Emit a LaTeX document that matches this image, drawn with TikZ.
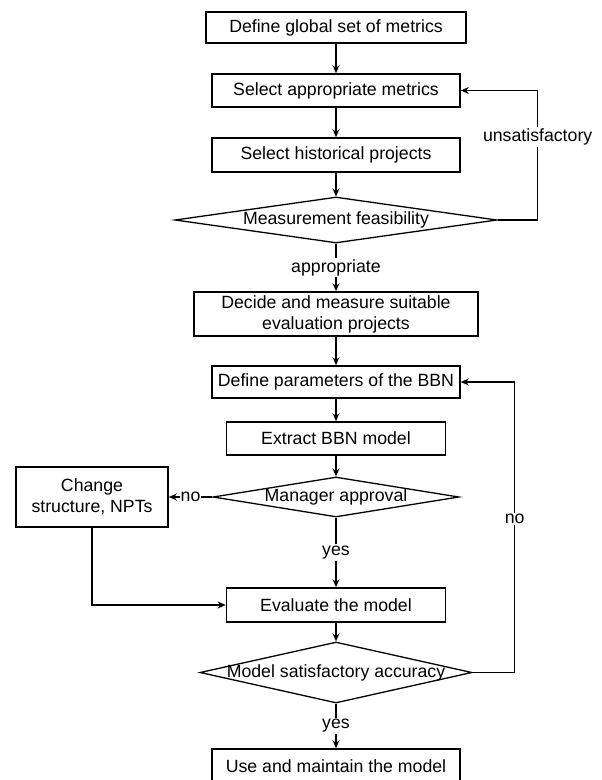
\documentclass[tikz,border=0pt]{standalone}
\usepackage{fontspec}
\setmainfont{Liberation Sans}
\usetikzlibrary{shapes.geometric,arrows.meta}
\begin{document}
\begin{tikzpicture}[x=1pt, y=-1pt, >={Stealth[length=8pt,width=7pt]}, line width=1.6pt,
  font=\fontsize{17.7}{21}\selectfont,
  stepbox/.style={draw, rectangle, inner sep=0pt, align=center},
  decision/.style={draw, diamond, inner sep=0pt, line width=1.3pt},
  lbl/.style={fill=white, inner sep=1.5pt}]
\useasboundingbox (0,0) rectangle (602,780);
\clip (0,0) rectangle (602,780);
\node[stepbox, minimum width=260pt, minimum height=31pt] (global) at (336,27.5) {Define global set of metrics};
\node[stepbox, minimum width=248pt, minimum height=33pt] (selmetrics) at (336,90.5) {Select appropriate metrics};
\node[stepbox, minimum width=248pt, minimum height=34pt] (selhist) at (336,155) {Select historical projects};
\node[decision, minimum width=322pt, minimum height=46pt] (feasible) at (336,220) {\makebox[0pt]{Measurement feasibility}};
\node[stepbox, minimum width=284pt, minimum height=44pt] (decide) at (336,314) {Decide and measure suitable\\evaluation projects};
\node[stepbox, minimum width=248pt, minimum height=32pt] (params) at (336,382) {Define parameters of the BBN};
\node[stepbox, minimum width=219pt, minimum height=33pt] (extract) at (336,438.5) {Extract BBN model};
\node[decision, minimum width=246pt, minimum height=40pt] (approval) at (336,497) {\makebox[0pt]{Manager approval}};
\node[stepbox, minimum width=152pt, minimum height=60pt] (change) at (92,497) {Change\\structure, NPTs};
\node[stepbox, minimum width=219pt, minimum height=34pt] (evaluate) at (336,605) {Evaluate the model};
\node[decision, minimum width=272pt, minimum height=61pt] (accuracy) at (336,672.5) {\makebox[0pt]{Model satisfactory accuracy}};
\node[stepbox, minimum width=248pt, minimum height=34pt] (maintain) at (336,766) {Use and maintain the model};
% main flow
\draw[->] (global) -- (selmetrics);
\draw[->] (selmetrics) -- (selhist);
\draw[->] (selhist) -- (feasible);
\draw[->] (feasible) -- node[lbl] {appropriate} (decide);
\draw[->] (decide) -- (params);
\draw[->] (params) -- (extract);
\draw[->] (extract) -- (approval);
\draw[->] (approval) -- node[lbl] {yes} (evaluate);
\draw[->] (evaluate) -- (accuracy);
\draw[->] (accuracy) -- node[lbl] {yes} (maintain);
% feedback loops
\draw[->] (feasible.east) -- ++(40,0) |- node[lbl, pos=0.32] {unsatisfactory} (selmetrics.east);
\draw[->] (approval.west) -- node[lbl, inner sep=1pt] {no} (change.east);
\draw[->] (change.south) |- (evaluate.west);
\draw[->] (accuracy.east) -- ++(42,0) |- node[lbl, pos=0.264] {no} (params.east);
\end{tikzpicture}
\end{document}
